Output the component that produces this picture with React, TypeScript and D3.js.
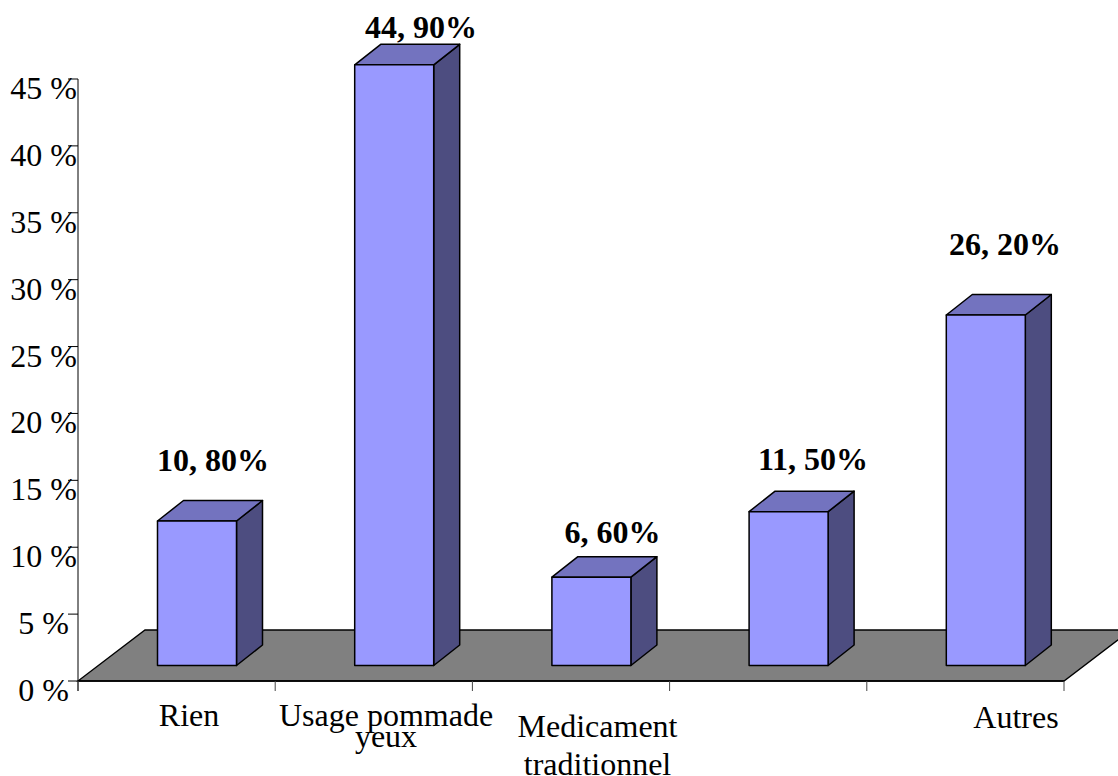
import React from "react";
import * as d3 from "d3";

const categories = ["Rien", "Usage pommade yeux", "Medicament traditionnel", "", "Autres"];
const values = [10.8, 44.9, 6.6, 11.5, 26.2];
const valueLabels = ["10, 80%", "44, 90%", "6, 60%", "11, 50%", "26, 20%"];
const yTicks = [0, 5, 10, 15, 20, 25, 30, 35, 40, 45];
const categoryLines = [["Rien"], ["Usage pommade", "yeux"], ["Medicament", "traditionnel"], [], ["Autres"]];

// Hand-placed label anchors, as the values sit freely above each column.
const valueLabelCentres = [213, 421, 612.5, 813, 1005];
const valueLabelBaselines = [471, 38, 543, 470, 255];
const categoryCentres = [189, 386, 597.5, 0, 1016];
const categoryBaselines = [[726], [726, 746.5], [736.5, 774.5], [], [728]];

const WIDTH = 1118;
const HEIGHT = 776;
const AXIS_X = 78;
const AXIS_RIGHT = 1064;
const BASE_Y = 681;
const TOP_Y = 79;
const DEPTH_X = 67;
const DEPTH_Y = 51;
const BAR_DX = 26;
const BAR_DY = 20.5;
const BAR_W = 79;
const BAR_INSET = 79.5;
const FRONT_BASE = 665.5;
const FONT = "'Liberation Serif', 'Times New Roman', serif";

export default function App() {
  const x = d3.scaleBand<number>()
    .domain(d3.range(categories.length))
    .range([AXIS_X, AXIS_RIGHT]);
  const y = d3.scaleLinear().domain([0, 45]).range([BASE_Y, TOP_Y]);

  const band = x.bandwidth();
  const floorPath = d3.path();
  floorPath.moveTo(AXIS_X, BASE_Y);
  floorPath.lineTo(AXIS_X + DEPTH_X, BASE_Y - DEPTH_Y);
  floorPath.lineTo(AXIS_RIGHT + DEPTH_X, BASE_Y - DEPTH_Y);
  floorPath.lineTo(AXIS_RIGHT, BASE_Y);
  floorPath.closePath();

  const tickXs = d3.range(categories.length + 1).map((i) => AXIS_X + i * band);

  return (
    <svg
      width={WIDTH}
      height={HEIGHT}
      viewBox={`0 0 ${WIDTH} ${HEIGHT}`}
      style={{ position: "absolute", left: 0, top: 0, background: "#fff" }}
      fontFamily={FONT}
    >
      <path d={floorPath.toString()} fill="#808080" stroke="#000" strokeWidth={1.3} />
      <line x1={AXIS_X} x2={AXIS_X} y1={TOP_Y} y2={BASE_Y + 10} stroke="#000" strokeWidth={1} />
      <line x1={AXIS_X} x2={AXIS_RIGHT} y1={BASE_Y} y2={BASE_Y} stroke="#000" strokeWidth={1.5} />
      {yTicks.map((t) => (
        <g key={t}>
          <line x1={AXIS_X - 10} x2={AXIS_X} y1={y(t)} y2={y(t)} stroke="#000" strokeWidth={1} />
          <text x={43.5} y={y(t) + 20} fontSize={32} textAnchor="middle" fill="#000">{`${t} %`}</text>
        </g>
      ))}
      {tickXs.map((tx) => (
        <line key={tx} x1={tx} x2={tx} y1={BASE_Y} y2={BASE_Y + 10} stroke="#444" strokeWidth={1} />
      ))}
      {values.map((v, i) => {
        const left = (x(i) as number) + BAR_INSET;
        const right = left + BAR_W;
        const top = FRONT_BASE - (BASE_Y - y(v));
        const topFace = d3.path();
        topFace.moveTo(left, top);
        topFace.lineTo(left + BAR_DX, top - BAR_DY);
        topFace.lineTo(right + BAR_DX, top - BAR_DY);
        topFace.lineTo(right, top);
        topFace.closePath();
        const sideFace = d3.path();
        sideFace.moveTo(right, top);
        sideFace.lineTo(right + BAR_DX, top - BAR_DY);
        sideFace.lineTo(right + BAR_DX, FRONT_BASE - BAR_DY);
        sideFace.lineTo(right, FRONT_BASE);
        sideFace.closePath();
        return (
          <g key={i} stroke="#000" strokeWidth={1.5} strokeLinejoin="round">
            <path d={sideFace.toString()} fill="#4d4d80" />
            <path d={topFace.toString()} fill="#7373bf" />
            <rect x={left} y={top} width={BAR_W} height={FRONT_BASE - top} fill="#9999ff" />
          </g>
        );
      })}
      {valueLabels.map((label, i) => (
        <text
          key={label}
          x={valueLabelCentres[i]}
          y={valueLabelBaselines[i]}
          fontSize={32}
          fontWeight="bold"
          textAnchor="middle"
          fill="#000"
        >
          {label}
        </text>
      ))}
      {categoryLines.map((lines, i) =>
        lines.map((line, j) => (
          <text
            key={line}
            x={categoryCentres[i]}
            y={categoryBaselines[i][j]}
            fontSize={32}
            textAnchor="middle"
            fill="#000"
          >
            {line}
          </text>
        ))
      )}
    </svg>
  );
}
